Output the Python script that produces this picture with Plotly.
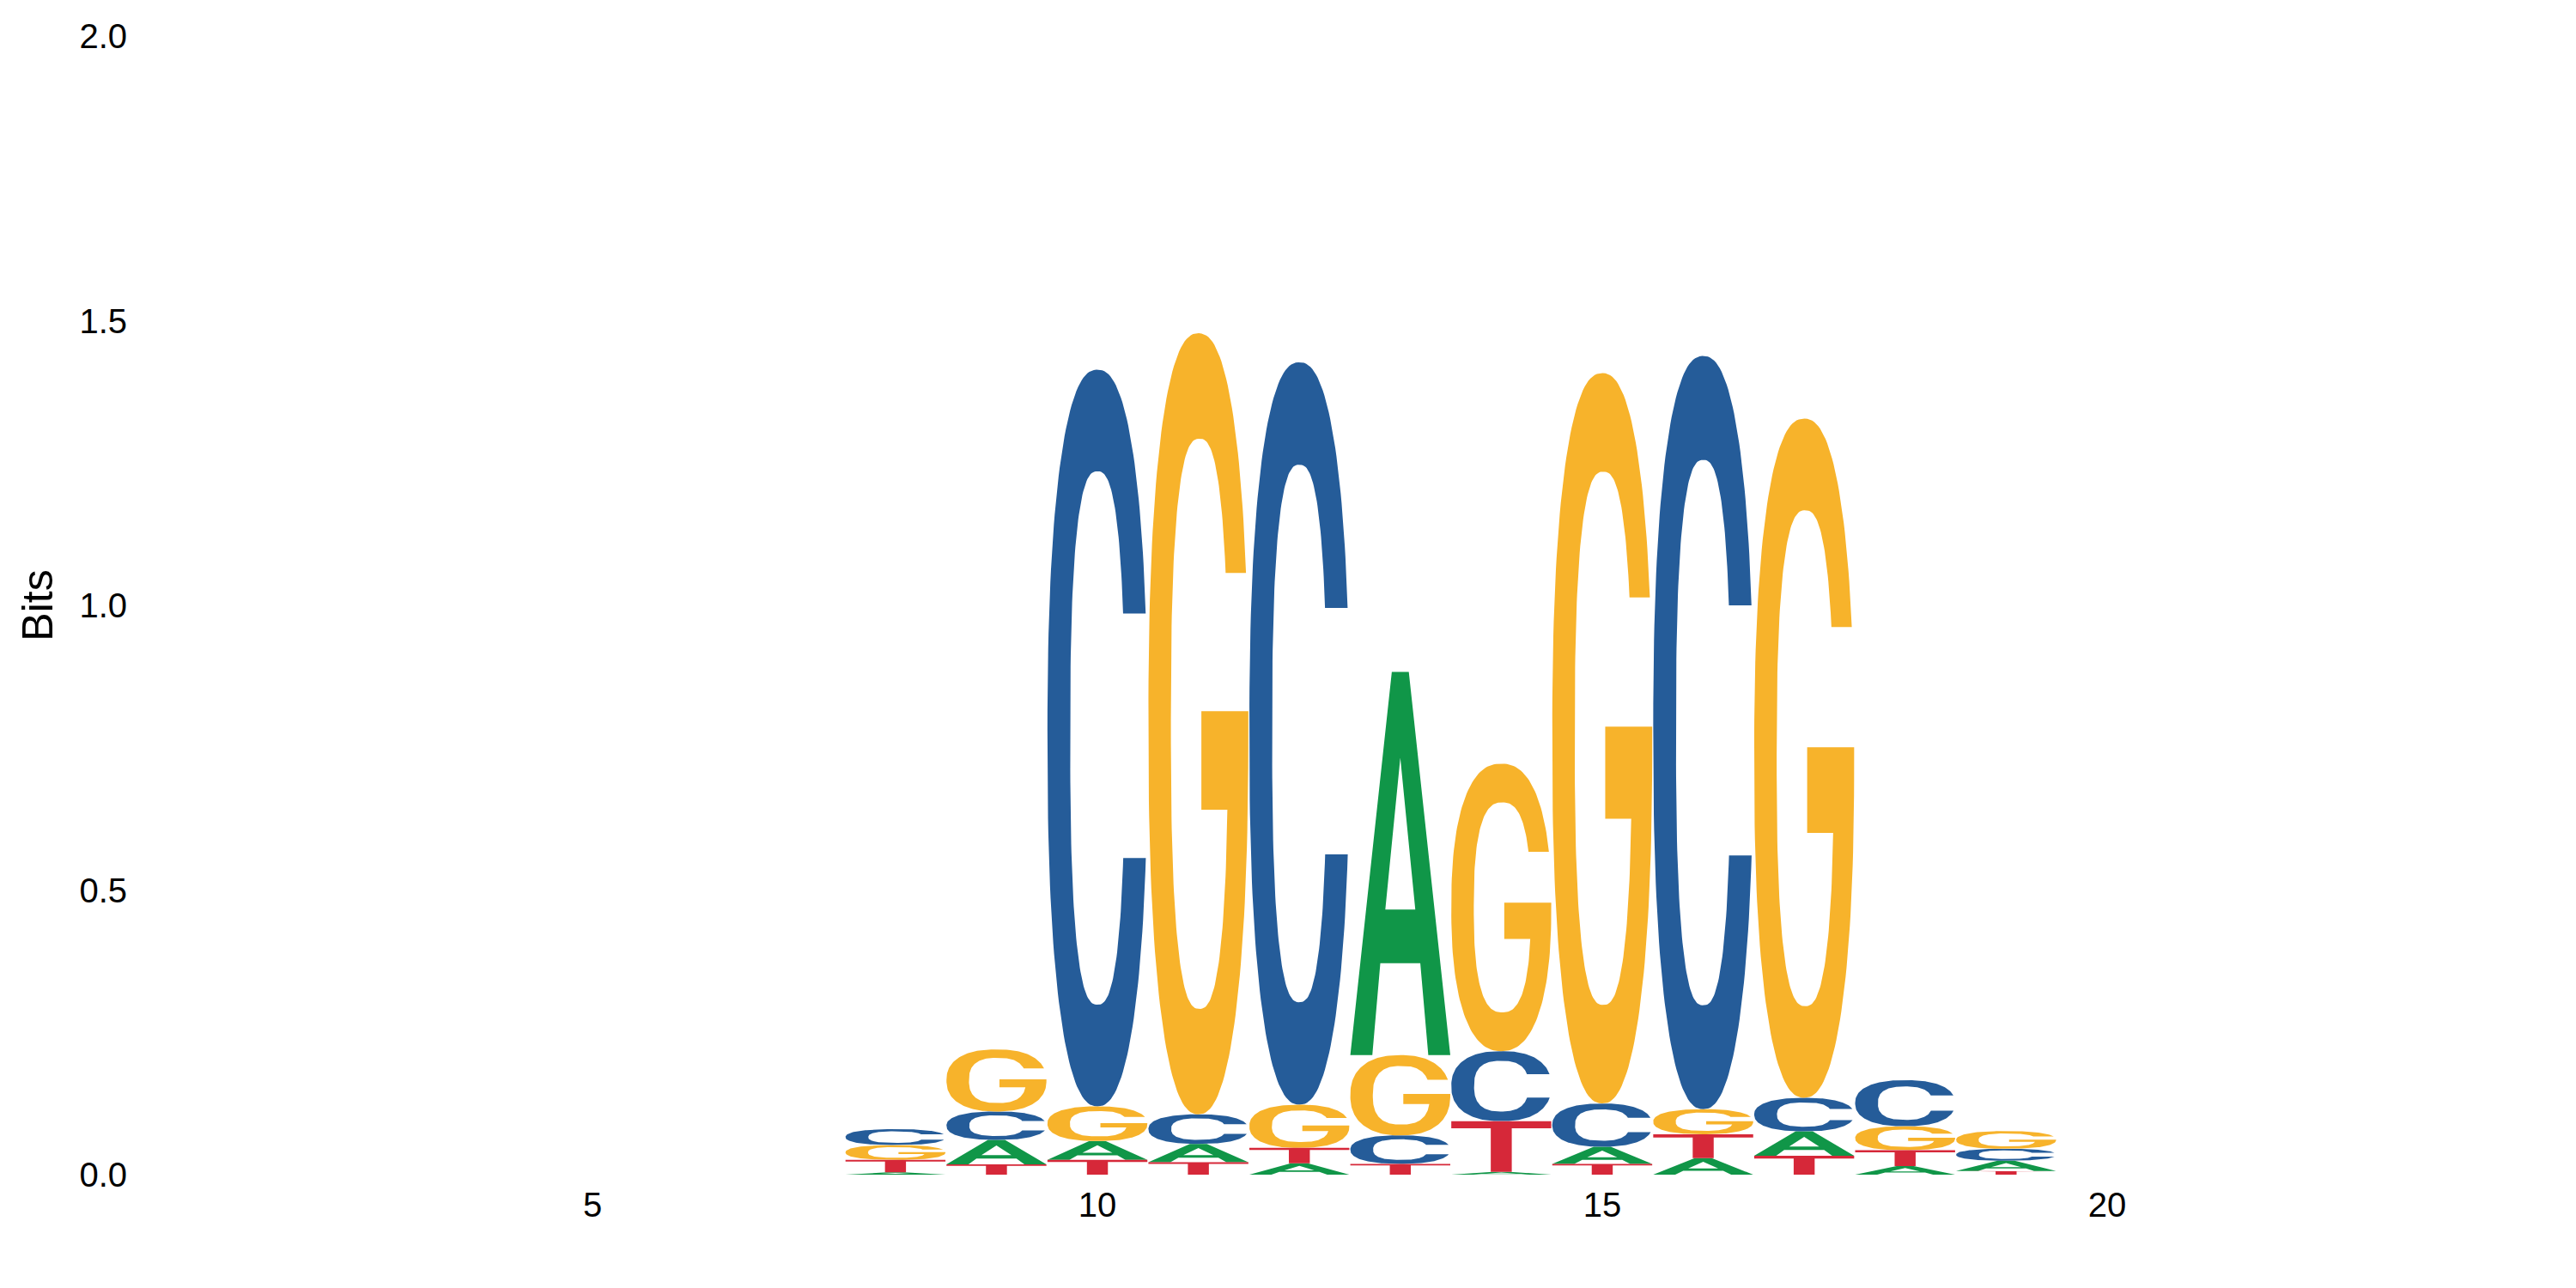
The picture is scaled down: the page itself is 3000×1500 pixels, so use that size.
import numpy as np
import plotly.graph_objects as go

# ---- data (bits per nucleotide at each motif position) ----
positions = [8, 9, 10, 11, 12, 13, 14, 15, 16, 17, 18, 19]
bits_A = [0.004, 0.043, 0.033, 0.032, 0.020, 0.673, 0.005, 0.030, 0.029, 0.043, 0.015, 0.018]
bits_C = [0.028, 0.050, 1.294, 0.052, 1.304, 0.050, 0.123, 0.076, 1.323, 0.059, 0.081, 0.021]
bits_G = [0.026, 0.109, 0.061, 1.372, 0.076, 0.141, 0.505, 1.283, 0.044, 1.193, 0.042, 0.031]
bits_T = [0.022, 0.018, 0.026, 0.022, 0.027, 0.019, 0.089, 0.019, 0.042, 0.033, 0.028, 0.0065]
x_ticks = [5, 10, 15, 20]
y_ticks = [0, 0.5, 1.0, 1.5, 2.0]
y_ticktext = ["0.0", "0.5", "1.0", "1.5", "2.0"]

colors = {"A": "#109648", "C": "#255C99", "G": "#F7B32B", "T": "#D62839"}
heights = {"A": bits_A, "C": bits_C, "G": bits_G, "T": bits_T}

# ---- glyph outlines in a unit box ----
P_OUT = 2.35
P_IN = 2.6


def sup(cx, cy, rx, ry, t, p):
    c, s = np.cos(t), np.sin(t)
    return (cx + rx * np.sign(c) * np.abs(c) ** (2 / p),
            cy + ry * np.sign(s) * np.abs(s) ** (2 / p))


def t_at(cy, ry, y, p):
    v = (y - cy) / ry
    return np.sign(v) * np.arcsin(np.abs(v) ** (p / 2))


def glyph_C():
    ocx, ocy, orx, ory, po = 0.5, 0.5, 0.5, 0.5, P_OUT
    icx, icy, irx, iry, pi_ = 0.5, 0.5, 0.272, 0.362, P_IN
    yu, yl = 0.669, 0.337
    to = np.linspace(t_at(ocy, ory, yu, po), 2 * np.pi + t_at(ocy, ory, yl, po), 160)
    ti = np.linspace(2 * np.pi + t_at(icy, iry, yl, pi_), t_at(icy, iry, yu, pi_), 160)
    xo, yo = sup(ocx, ocy, orx, ory, to, po)
    xi, yi = sup(icx, icy, irx, iry, ti, pi_)
    return [(np.concatenate([xo, xi]), np.concatenate([yo, yi]))]


def glyph_G():
    ocx, ocy, orx, ory, po = 0.5, 0.5, 0.5, 0.5, P_OUT
    icx, icy, irx, iry, pi_ = 0.51, 0.5, 0.285, 0.365, P_IN
    yu = 0.693
    bar_top, bar_bot, bar_left, stem_in = 0.516, 0.39, 0.53, 0.79
    to = np.linspace(t_at(ocy, ory, yu, po), 2 * np.pi, 160)
    xo, yo = sup(ocx, ocy, orx, ory, to, po)
    ti = np.linspace(2 * np.pi + t_at(icy, iry, bar_bot, pi_), t_at(icy, iry, yu, pi_), 160)
    xi, yi = sup(icx, icy, irx, iry, ti, pi_)
    xs = np.concatenate([xo, [1.0, bar_left, bar_left, stem_in], xi])
    ys = np.concatenate([yo, [bar_top, bar_top, bar_bot, bar_bot], yi])
    return [(xs, ys)]


def glyph_A():
    ox = [0.0, 0.22, 0.30, 0.70, 0.78, 1.0, 0.585, 0.415]
    oy = [0.0, 0.0, 0.24, 0.24, 0.0, 0.0, 1.0, 1.0]
    ix = [0.35, 0.5, 0.65]
    iy = [0.38, 0.776, 0.38]
    return [(np.array(ox), np.array(oy)), (np.array(ix), np.array(iy))]


def glyph_T():
    x = [0.395, 0.605, 0.605, 1.0, 1.0, 0.0, 0.0, 0.395]
    y = [0.0, 0.0, 0.86, 0.86, 1.0, 1.0, 0.86, 0.86]
    return [(np.array(x), np.array(y))]


glyphs = {"A": glyph_A(), "C": glyph_C(), "G": glyph_G(), "T": glyph_T()}
col_width = 0.99

# ---- stack letters (ascending height from bottom) ----
paths = {b: ([], []) for b in "ACGT"}
for i, pos in enumerate(positions):
    order = sorted("ACGT", key=lambda b: heights[b][i])
    y0 = 0.0
    for b in order:
        h = heights[b][i]
        for gx, gy in glyphs[b]:
            X = pos - col_width / 2 + gx * col_width
            Y = y0 + gy * h
            paths[b][0].extend(list(X) + [X[0], None])
            paths[b][1].extend(list(Y) + [Y[0], None])
        y0 += h

fig = go.Figure()
for b in "ACGT":
    fig.add_trace(go.Scatter(
        x=paths[b][0], y=paths[b][1], mode="lines", fill="toself",
        fillcolor=colors[b], line=dict(width=0, color=colors[b]),
        hoverinfo="skip", name=b, showlegend=False))

font_family = "Liberation Sans, Arial, Helvetica, sans-serif"
fig.update_layout(
    width=3000, height=1500,
    margin=dict(l=153, r=25, t=25, b=140),
    paper_bgcolor="white", plot_bgcolor="white",
    font=dict(family=font_family, color="black"),
    xaxis=dict(range=[0.5, 24.5], tickvals=x_ticks, showgrid=False,
               zeroline=False, showline=False, ticks="",
               tickfont=dict(size=40, color="black"), ticklabelstandoff=8),
    yaxis=dict(range=[0, 2], tickvals=y_ticks, ticktext=y_ticktext,
               showgrid=False, zeroline=False, showline=False, ticks="",
               tickfont=dict(size=40, color="black"), ticklabelstandoff=12,
               title=dict(text="Bits", font=dict(size=50, color="black"),
                          standoff=14)),
)

fig.write_html("out.html")
